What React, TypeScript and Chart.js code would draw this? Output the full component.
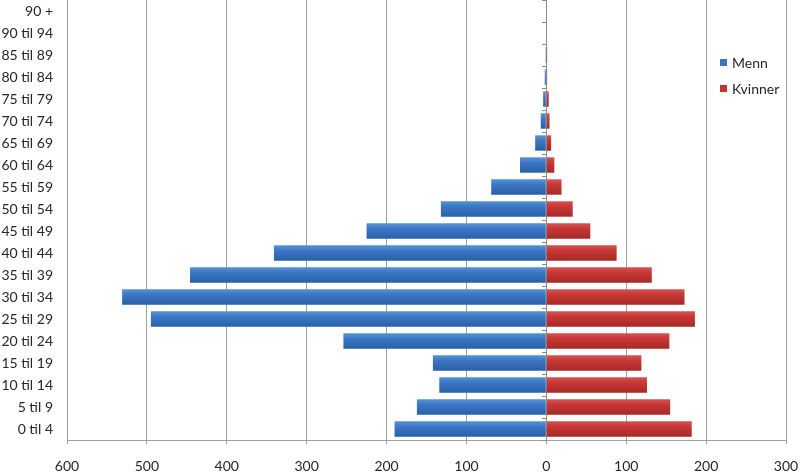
import React, { useEffect, useRef } from "react";
import { Chart, registerables } from "chart.js";

Chart.register(...registerables);

// Bottom to top
const ageGroups = [
  "0 til 4", "5 til 9", "10 til 14", "15 til 19", "20 til 24", "25 til 29",
  "30 til 34", "35 til 39", "40 til 44", "45 til 49", "50 til 54", "55 til 59",
  "60 til 64", "65 til 69", "70 til 74", "75 til 79", "80 til 84", "85 til 89",
  "90 til 94", "90 +",
];
const menn = [190, 162, 134, 142, 254, 495, 531, 446, 341, 225, 132, 69, 33, 14, 7, 4, 2, 1, 0, 0];
const kvinner = [182, 155, 126, 119, 154, 186, 173, 132, 88, 55, 33, 19, 10, 6, 4, 3, 1, 1, 0, 0];
const xTicksMin = -600;
const xTicksMax = 300;
const xStep = 100;

const FONT = "Lato, 'Open Sans', sans-serif";

function barGradient(ctx: any, top: string, mid: string, bottom: string) {
  const chart = ctx.chart;
  const yScale = chart.scales?.y;
  if (!yScale || ctx.dataIndex === undefined) return mid;
  const c = yScale.getPixelForValue(ctx.dataIndex);
  if (!Number.isFinite(c)) return mid;
  const h = 8;
  const g = chart.ctx.createLinearGradient(0, c - h, 0, c + h);
  g.addColorStop(0, top);
  g.addColorStop(0.35, mid);
  g.addColorStop(1, bottom);
  return g;
}

const zeroAxisPlugin = {
  id: "zeroAxis",
  beforeDatasetsDraw(chart: any) {
    const { ctx, scales, chartArea } = chart;
    const x0 = scales.x.getPixelForValue(0);
    ctx.save();
    ctx.strokeStyle = "#8c8c8c";
    ctx.lineWidth = 1;
    ctx.beginPath();
    ctx.moveTo(Math.round(x0) + 0.5, chartArea.top);
    ctx.lineTo(Math.round(x0) + 0.5, chartArea.bottom);
    const n = ageGroups.length;
    for (let i = 0; i <= n; i++) {
      const y = Math.round(scales.y.getPixelForValue(i - 0.5)) + 0.5;
      ctx.moveTo(Math.round(x0) - 4, y);
      ctx.lineTo(Math.round(x0) + 1, y);
    }
    ctx.stroke();
    ctx.restore();
  },
};

const legendPlugin = {
  id: "customLegend",
  afterDraw(chart: any) {
    const { ctx } = chart;
    ctx.save();
    ctx.font = `14px ${FONT}`;
    ctx.textBaseline = "middle";
    ctx.textAlign = "left";
    const items = chart.data.datasets.map((d: any, i: number) => ({
      label: d.label,
      color: i === 0 ? "#3b73c0" : "#c23533",
    }));
    items.forEach((it: any, i: number) => {
      const y = 63 + i * 26;
      ctx.fillStyle = it.color;
      ctx.fillRect(720, y - 4, 7, 7);
      ctx.fillStyle = "#262626";
      ctx.fillText(it.label, 732, y);
    });
    ctx.restore();
  },
};

export default function App() {
  const ref = useRef<HTMLCanvasElement>(null);

  useEffect(() => {
    document.body.style.margin = "0";
    if (!ref.current) return;
    const chart = new Chart(ref.current, {
      type: "bar",
      data: {
        labels: ageGroups,
        datasets: [
          {
            label: "Menn",
            data: menn.map((v) => -v),
            backgroundColor: (ctx: any) => barGradient(ctx, "#5a93d8", "#3c77c4", "#285ea8"),
            borderWidth: 0,
            barPercentage: 0.7,
            categoryPercentage: 1,
          },
          {
            label: "Kvinner",
            data: kvinner,
            backgroundColor: (ctx: any) => barGradient(ctx, "#da5452", "#c73835", "#a52826"),
            borderWidth: 0,
            barPercentage: 0.7,
            categoryPercentage: 1,
          },
        ],
      },
      options: {
        indexAxis: "y",
        responsive: false,
        animation: false,
        layout: { padding: { top: 0, right: 14, left: 0, bottom: 0 } },
        plugins: {
          legend: { display: false },
          tooltip: { enabled: false },
        },
        scales: {
          x: {
            min: xTicksMin,
            max: xTicksMax,
            ticks: {
              stepSize: xStep,
              callback: (v: any) => String(Math.abs(Number(v))),
              color: "#262626",
              font: { family: FONT, size: 14 },
              padding: 14,
              maxRotation: 0,
            },
            grid: {
              color: "#a0a0a0",
              lineWidth: 1,
              tickLength: 4,
              tickColor: "#a0a0a0",
            },
            border: { color: "#a0a0a0" },
            afterFit: (scale: any) => {
              scale.height = 34;
              scale.paddingLeft = 0;
              scale.paddingRight = 0;
            },
          },
          y: {
            stacked: true,
            reverse: true,
            grid: { display: false, drawTicks: false },
            border: { display: false },
            ticks: {
              color: "#262626",
              font: { family: FONT, size: 14 },
              padding: 14,
              autoSkip: false,
            },
            afterFit: (scale: any) => {
              scale.width = 67;
              scale.paddingTop = 0;
              scale.paddingBottom = 0;
            },
          },
        },
      },
      plugins: [zeroAxisPlugin, legendPlugin],
    });
    return () => chart.destroy();
  }, []);

  return (
    <div style={{ position: "absolute", left: 0, top: 0, width: 800, height: 474, background: "#fff" }}>
      <canvas ref={ref} width={800} height={474} />
    </div>
  );
}
